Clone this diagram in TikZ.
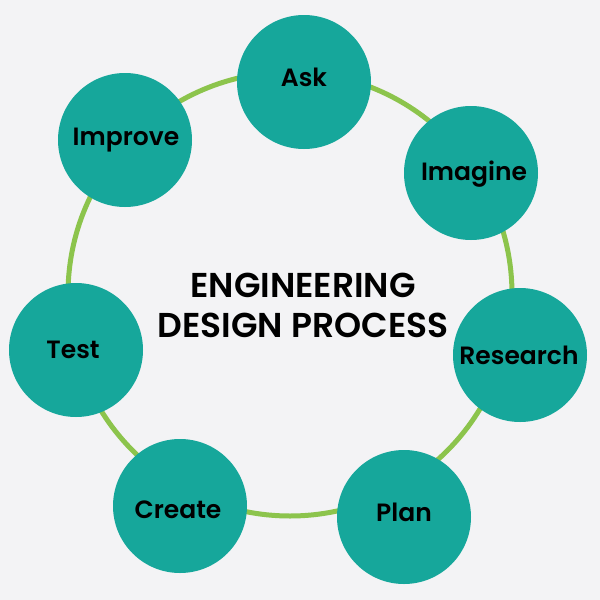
\documentclass[tikz,border=0pt]{standalone}
\usepackage{fontspec}
\setmainfont{Poppins}
\newfontfamily\labfont{Poppins SemiBold}
\newfontfamily\titfont{Poppins SemiBold}
\definecolor{bg}{HTML}{F3F3F5}
\definecolor{teal}{HTML}{16A79B}
\definecolor{ring}{HTML}{8CC44C}
\begin{document}
\begin{tikzpicture}[x=1pt,y=-1pt,
  stepnode/.style={circle,fill=teal,minimum size=134pt,inner sep=0pt},
  steplabel/.style={font=\fontsize{25}{25}\labfont,text=black,inner sep=0pt,anchor=center},
  titlelabel/.style={font=\fontsize{34.5}{34.5}\titfont,text=black,inner sep=0pt,anchor=center}]
\fill[bg] (0,0) rectangle (600,600);
\useasboundingbox (0,0) rectangle (600,600);
\coordinate (ringc) at (290,294);
\draw[ring,line width=5pt] (ringc) circle[radius=222pt];
\node[stepnode] (ask) at (304,82) {};
\node[stepnode] (imagine) at (471,173) {};
\node[stepnode] (research) at (520,355) {};
\node[stepnode] (plan) at (404,517) {};
\node[stepnode] (create) at (180,506) {};
\node[stepnode] (test) at (76,350) {};
\node[stepnode] (improve) at (125,140) {};
\node[steplabel] (askt) at (304,77) {Ask};
\node[steplabel] (imaginet) at (474,174) {Imagine};
\node[steplabel] (researcht) at (519,355) {Research};
\node[steplabel] (plant) at (404,512) {Plan};
\node[steplabel] (createt) at (178,510) {Create};
\node[steplabel] (testt) at (73,350) {Test};
\node[steplabel] (improvet) at (126,140) {Improve};
\node[titlelabel] (t1) at (303,285) {ENGINEERING};
\node[titlelabel] (t2) at (303,325) {DESIGN PROCESS};
\end{tikzpicture}
\end{document}
